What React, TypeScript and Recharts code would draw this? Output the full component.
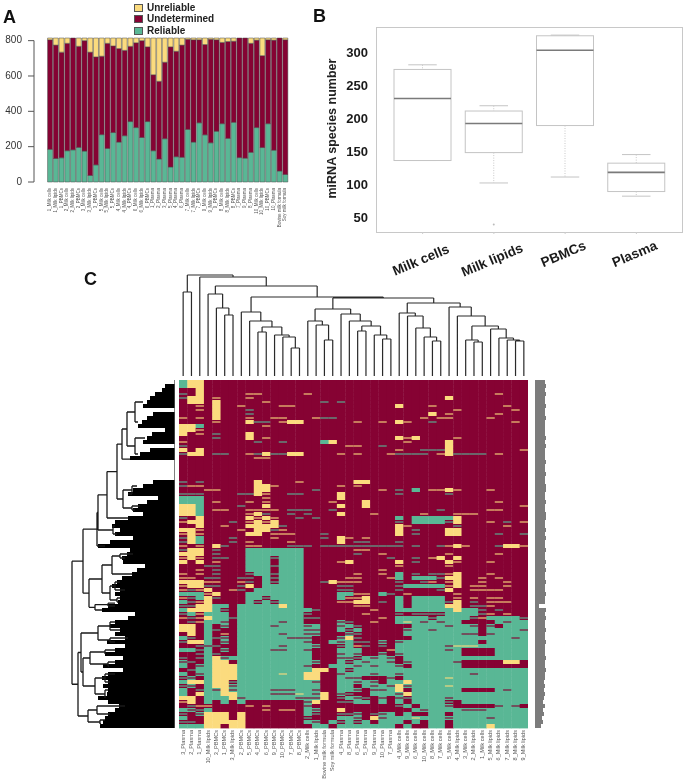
import React from 'react';
import { BarChart, Bar, XAxis, YAxis, Legend, LineChart, Line, ScatterChart, Scatter, ReferenceLine } from 'recharts';

const FONT = '"Liberation Sans", Arial, sans-serif';
const GREEN = '#59b795';
const BURGUNDY = '#860233';
const YELLOW = '#fbdb7e';

// panel A
const sampleLabels = [
  '1_Milk cells', '1_Milk lipids', '1_PBMCs', '2_Milk cells', '2_Milk lipids', '2_PBMCs', '3_Milk cells', '3_Milk lipids', '3_PBMCs',
  '5_Milk cells', '5_Milk lipids', '5_PBMCs', '4_Milk cells', '4_Milk lipids', '4_PBMCs', '6_Milk cells', '6_Milk lipids', '6_PBMCs',
  '1_Plasma', '2_Plasma', '3_Plasma', '5_Plasma', '4_Plasma', '6_Plasma', '7_Milk cells', '7_Milk lipids', '7_PBMCs',
  '9_Milk cells', '9_Milk lipids', '9_PBMCs', '8_Milk cells', '8_Milk lipids', '8_PBMCs', '7_Plasma', '9_Plasma', '8_Plasma',
  '10_Milk cells', '10_Milk lipids', '10_PBMCs', '10_Plasma', 'Bovine milk formula', 'Soy milk formula',
];
const reliable = [185, 133, 137, 177, 182, 196, 175, 37, 97, 268, 190, 280, 226, 262, 342, 308, 252, 342, 177, 130, 245, 85, 143, 140, 298, 226, 335, 267, 222, 287, 330, 247, 338, 138, 135, 168, 308, 195, 330, 180, 62, 43];
const undetermined = [620, 642, 598, 608, 633, 572, 625, 698, 611, 444, 595, 490, 529, 483, 426, 480, 548, 423, 430, 440, 433, 680, 597, 635, 510, 579, 470, 511, 586, 518, 460, 548, 459, 677, 680, 617, 495, 520, 475, 623, 753, 762];
const unreliable = [10, 40, 80, 30, 0, 47, 15, 80, 107, 103, 30, 45, 60, 70, 47, 27, 15, 50, 208, 245, 137, 50, 75, 40, 7, 10, 10, 37, 7, 10, 25, 20, 18, 0, 0, 30, 12, 100, 10, 12, 0, 10];
const countTicks = [0, 200, 400, 600, 800];
const stackTable = sampleLabels.map((name, i) => ({ name, reliable: reliable[i], undetermined: undetermined[i], unreliable: unreliable[i] }));
const legendItems = [['Unreliable', YELLOW], ['Undetermined', BURGUNDY], ['Reliable', GREEN]];

// panel B
const tissues = ['Milk cells', 'Milk lipids', 'PBMCs', 'Plasma'];
const q1 = [136, 148, 189, 89];
const medians = [230, 192, 303, 118];
const q3 = [274, 211, 325, 132];
const whiskerLow = [136, 102, 111, 82];
const whiskerHigh = [281, 219, 326, 145];
const outliers = [null, 39, null, null];
const speciesTicks = [50, 100, 150, 200, 250, 300];
const boxTable = tissues.map((name, i) => ({ name, q1: q1[i], median: medians[i], q3: q3[i], low: whiskerLow[i], high: whiskerHigh[i], outlier: outliers[i] }));

// panel C
const heatmapColumns = [
  '3_Plasma', '2_Plasma', '1_Plasma', '10_Milk lipids', '3_PBMCs', '1_PBMCs', '3_Milk lipids', '2_PBMCs', '5_PBMCs', '4_PBMCs', '6_PBMCs',
  '9_PBMCs', '10_PBMCs', '7_PBMCs', '8_PBMCs', '2_Milk cells', '1_Milk lipids', 'Bovine milk formula', 'Soy milk formula', '4_Plasma',
  '8_Plasma', '6_Plasma', '5_Plasma', '9_Plasma', '10_Plasma', '7_Plasma', '4_Milk cells', '9_Milk cells', '6_Milk cells', '10_Milk cells',
  '8_Milk cells', '7_Milk cells', '5_Milk cells', '4_Milk lipids', '3_Milk cells', '2_Milk lipids', '1_Milk cells', '5_Milk lipids',
  '6_Milk lipids', '7_Milk lipids', '8_Milk lipids', '9_Milk lipids',
];
// . undetermined, r reliable, y unreliable; o/g are thin stripes on burgundy, d/e thin stripes on green
const heatmapRows = [
  'ryy....... .......... .......... .......... ..',
  'ryy....... .......... .......... .......... ..',
  '..y....... .......... .......... .......... ..',
  'g.y.....oo .....o.... .......... ........o. ..',
  'gyy.o...o. .......... .......... ..y....... ..',
  '.yy.y..... o......g.g .......... .......... ..',
  '..o.y..o.. ..oo...... ......y... o........o ..',
  '..o.y...g. .......... .......... ...o...... o.',
  '....y...g. .......... .......... y.o.....o. ..',
  'o.o.y...o. .oo...ogg. .........o .oo....o.. ..',
  '....o...yg g.oyy..... .o..o.yo.. g......... o.',
  'yyr....... o......... .......... .......... ..',
  'yyo....... .......... .......... .......... ..',
  'y.o.g...y. .......... .......... .......... ..',
  '....g...y. o......... ......yoy. ...o...... ..',
  'o........g ..g....ry. .......o.. ..y....... ..',
  'g......... .......... oo..g..... ..y....... ..',
  'y.y....... .......... ......o..g ggy....... .o',
  'gyy.gg..og yggyy....o .o...ogggg .oygggg.o. ..',
  '.........o o......... .......... .......... ..',
  '.......... .......... .......... .......... ..',
  '.......... .......... .......... .......... ..',
  '.......... .......... .......... .......... ..',
  '.......... .......... .......... .......... ..',
  '.......... .......... .......... .......... ..',
  'g.g......y ....o..... .yy....... .......... ..',
  'goo......y yo.......o .o........ .......... ..',
  '...oo....y y.....g... ....o.g.r. ooyo...o.. ..',
  'ggg....ggy o..gg....y ......g... ..g....... ..',
  'rrr....... o........y .......... .......... ..',
  'rrr.o...o. o.......o. ..y....... ........o. ..',
  'yyr....g.. y........y ..y....... .......... .o',
  'yyr.oo..oo oo.ggg..g. .......... .g.....oo. ..',
  'yyr.....oy g..g.g...y ...o.....o ...ooo.... ..',
  'g.y.....yo yo..g.g... ......r.rr rrry...... ..',
  'oyy...g.oy oy........ ......g.rr rrgy...o.g .o',
  '..y..o..yy yyg....... ......yo.. ...g.....o ..',
  'yyo....o.y ygo....... ......y.g. ..yy...... ..',
  'oyo.....yy .ooo...g.. ......y.g. ..yy....g. .g',
  'gyr...g... .o.....g.y o.o....... .......... ..',
  'gyr...g.o. ...o.....y .gg...g... .......... ..',
  'o.o.yg..oo ...ggg.ggg ggggggg.g. .goyo...gy yo',
  'gyy.g...rr rrrrr..... .oo....... .......... ..',
  'yyy.g...rr rrrrr..... .g..o..... ..o.....o. ..',
  'oyo.gg..rr rgrrr..... .....g..g. oy.y...... ..',
  'y.y.o...rr r.rrr....o y.....y.g. ..yo...o.. ..',
  '...gg...rr rgrrr..... ......o... ..o....... ..',
  '..o.g...rr r.rrr..... ....o..... .......... ..',
  'o.o.g...gr rgrrr..... .o..o.r.g. ggoy...o.. ..',
  'oo.gg..gg. rgrrr..... oo...or.rr rgyy..o.o. ..',
  'yyyoo..og. rgrrr..gyo oo....g..g o.oy..o..o ..',
  'oyygg..gy. rrrrr....g g.....grrr rroy.oo..o ..',
  'ogoy..og.r rrrrr....g g.....g... .gy..oooo. ..',
  'rrroy...rr rrrrr....r roo.rg.o.. ...o...... ..',
  'ogryg...rr grrrr....r ooy...r.rr rr.o.o.oo. ..',
  'rgoy....rg rgrrr....o oyy.g.r.rr rrgy.g.ooo ..',
  'ggyyrr.rrr rryrr..... .oo...r.rr rryy.ggo.. ..',
  'ryyyrg.rrr rrrrrrg... ...o..rrrr rrryrrg.g. ..',
  'grorrr.rrr rrrrrg.... ..o...g.gg ggrrrrgo.o ..',
  'ogoyrrgrrr rrrrrgg... ....o.rrrr grrrrgorrr rg',
  '.gorrd.rrr rrdrr....d g..o..rerd rdrr....rd rr',
  'yy.r.d.rrr rdrrrdr..d rg......rr rrdrrd.d.r rr',
  'yy.rg..rrr rrrrrdd..r gr.....drr drrrrr.rrr rd',
  '.y.r.o.rrr rrdrrdd... dg.....rrr rrrrdd.drr rr',
  'rg.rgd.rrr rrrddd...d yg......rr rrrrrrrrrr dr',
  'gyyr.d.rrr rrrrrd..rd rgg.d.drrr rrrrrr.rrr rr',
  '..gdg..rrr rrdrrrd..g rog.g.rrrr rrdeeerrrr rr',
  'rrgr.d.rrr rddrrd...r rr...orrrr rrdr....rr rr',
  '..grg..rrr rrrrrr...d rd..d.drrr rrrr....rr rr',
  'g.grydrrrr rrrrrr...d dgrdrd.rrr rrrrrrrrrr rr',
  'dg.ryy.rrr rrrrrrd..r grdrrd.drr rrrd.....y y.',
  'r.dryyyrrr rrrrrd..rr rdrdrrd.rr rrrr...... ..',
  '.grryyyrrr rrrrrryy.r grrrrrrrrr rrrrrrrrrr rr',
  'r.dryyyrrr rrerryy..d rrrdrrdrrr rrrrrdrrrr rr',
  'gd.ryyyrrr rrrrryy..r dd...d.rrr rrerrrrrrr rr',
  'ryyryygrrr rrrrrrd..r rdrd.rryrr rrrrrrrrrr rr',
  'gd.ryydrrr rrrrrrr..r r.rdrdydrr rrerrrrrrr rr',
  'r.grdydrrr rdddrrd..r rd.ddry.rr rrrr....rd rr',
  'r.yrryyrrr rddderdy.d g..rrrdyrr rrrrrrrrrr rr',
  'yy.rrrydrr rrrrdddy.g rdg.d.dgrr rrdrrrrrrr rr',
  'oy.r.r.r.. .....dy..g grr.r.r.rr rrg.rrrrrr rr',
  '.goo....o. o....d.... ......gr.r rrd.....dr d.',
  'rdgr...... o.oo.rd..y ........rd rrrrdddrrr rr',
  'g.dyyy.y.. .....rg..g gd.gdr.r.. rr.rrrrrrr rr',
  'r..yyy.y.. .....g...r rd.ydrrrer rrdrrrrdrr rr',
  'gg.yyyyy.. .....rd.rg rgr.rrr.r. rr.rrrrrrr rr',
  'rrryy.yy.. ......rr.r rrrrrr.r.. rr.rrrryrr rr',
].map((row) => row.replace(/ /g, '').padEnd(42, '.'));
const rowLabelWidths = [10, 11, 10, 11, 10, 10, 11, 10, 10, 11, 10, 10, 10, 10, 11, 10, 11, 10, 10, 10, 11, 10, 10, 11, 10, 10, 11, 11, 10, 10, 11, 10, 10, 11, 11, 10, 10, 11, 10, 11, 10, 10, 11, 10, 10, 11, 10, 11, 10, 10, 11, 10, 10, 11, 10, 10, 4, 11, 10, 11, 10, 10, 11, 10, 10, 11, 10, 10, 10, 11, 10, 10, 11, 10, 10, 9, 10, 9, 10, 9, 8, 10, 8, 9, 7, 8, 6];
// how far the leaves of the row dendrogram reach, one value per heatmap row
const rowLeafDepth = [0, 10, 13, 20, 25, 28, 32, 0, 22, 28, 33, 37, 10, 23, 28, 32, 0, 25, 35, 45, 0, 0, 0, 0, 0, 22, 32, 42, 47, 17, 28, 37, 42, 32, 47, 60, 63, 55, 60, 42, 65, 77, 45, 48, 53, 52, 30, 38, 43, 53, 58, 63, 55, 60, 55, 57, 67, 73, 40, 47, 60, 65, 55, 60, 50, 68, 50, 60, 70, 52, 60, 72, 52, 67, 73, 67, 72, 67, 68, 77, 67, 56, 60, 67, 70, 72, 75];
const depthTable = rowLeafDepth.map((depth, i) => ({ row: i, depth, label: rowLabelWidths[i] }));

// [height, child, child]; a number is a column leaf, a pair is [height, row position]
type TreeNode = number | [number, number] | [number, TreeNode, TreeNode];
const columnTree: TreeNode = [101, [84, 0, 1], [99, 2, [90,
  [82, 3, [68, 4, [61, 5, 6]]],
  [79,
    [64, 7, [55, 8, [49, [44, 9, 10], [41, 11, [39, 12, [28, 13, 14]]]]]],
    [78,
      [67, [55, 15, [51, 16, [36, 17, 18]]], [62, 19, [55, 20, [50, [45, 21, 22], [41, 23, [37, 24, 25]]]]]],
      [73, [63, 26, [60, 27, [48, 28, [39, 29, [35, 30, 31]]]]], [69, 32, [60, 33, [50, [36, 34, [34, 35, 36]], [47, 37, [38, 38, [36, 39, [35, 40, 41]]]]]]]],
    ],
  ],
]]];
const rowTree: TreeNode = [103,
  [92,
    [78,
      [77,
        [68,
          [58,
            [53,
              [48, [40, [32, 5.5], [37, 10.5]], [40, [30, 14.5], [37, 18.5]]],
              [45, 19.8],
            ],
            [52, [43, [38, 26.5], [47, 28.5]], [43, [35, 31.5], [40, 32.5]]],
          ],
          [47, 34.5],
        ],
        [62, [60, 36.5], [58, 38.5]],
      ],
      [70, 41.5],
    ],
    [86,
      [73,
        [63, [55, [42, 43.5], [50, 44.5]], [43, 48.5]],
        [65, [60, [55, 50.5], [50, 52.5]], [58, [55, 54.5], [57, 55.5]]],
      ],
      [80, [67, [60, 55.8], [60, 56.5]], [73, 57.5]],
    ],
  ],
  [97,
    [94,
      [77, [65, [60, 60.5], [55, 62.5]], [65, [47, 64.5], [60, 65.5]]],
      [92,
        [85, [70, [60, 67.5], [70, 68.5]], [67, [60, 70.5], [66, 71.5]]],
        [80, [70, [60, 73.5], [65, 75.5]], [70, [67, 77.5], [70, 79.5]]],
      ],
    ],
    [87, [78, [50, 81.5], [65, 83.5]], [75, [70, 85], [74, 86]]],
  ],
];

const treeSegments = (tree: TreeNode, horizontalLeaves: boolean) => {
  const out: { x: number; y: number | null }[] = [];
  const put = (h: number, pos: number) => out.push(horizontalLeaves ? { x: h, y: pos } : { x: pos, y: h });
  const cut = () => out.push({ x: out[out.length - 1].x, y: null });
  const walk = (node: TreeNode): { h: number; pos: number } => {
    if (typeof node === 'number') return { h: 0, pos: node + 0.5 };
    if (node.length === 2) return { h: node[0], pos: node[1] };
    const a = walk(node[1]);
    const b = walk(node[2]);
    const pos = (a.pos + b.pos) / 2;
    put(node[0], a.pos); put(node[0], b.pos); cut();
    put(node[0], a.pos); put(a.h, a.pos); cut();
    put(node[0], b.pos); put(b.h, b.pos); cut();
    return { h: node[0], pos };
  };
  walk(tree);
  return out;
};
const columnSegments = treeSegments(columnTree, false);
const rowSegments = treeSegments(rowTree, true);

const cells = heatmapRows.flatMap((row, r) => row.split('').map((state, c) => ({ col: c + 0.5, row: r + 0.5, state })));
const columnTicks = heatmapColumns.map((_, i) => i + 0.5);

const CELL_W = 349 / 42;
const CELL_H = 4;
const HeatCell = ({ cx, cy, payload }: any) => {
  const s = payload.state;
  const base = s === 'r' || s === 'd' || s === 'e' ? GREEN : s === 'y' ? YELLOW : BURGUNDY;
  const stripe = s === 'o' || s === 'e' ? YELLOW : s === 'g' ? GREEN : s === 'd' ? BURGUNDY : null;
  const x = cx - CELL_W / 2;
  const y = cy - CELL_H / 2;
  return (
    <g>
      <rect x={x} y={y} width={CELL_W + 0.4} height={CELL_H + 0.4} fill={base} />
      {stripe && <rect x={x} y={y + 1.2} width={CELL_W + 0.4} height={1.6} fill={stripe} opacity={0.7} />}
    </g>
  );
};

const SampleTick = ({ x, y, payload }: any) => (
  <text x={x} y={y - 2} transform={`rotate(-90 ${x} ${y - 2})`} textAnchor="end" dominantBaseline="middle" fontSize={4.5} fill="#555" fontFamily={FONT}>
    {payload.value}
  </text>
);

const CountTick = ({ x, y, payload }: any) => {
  const axisX = x + 8;
  return (
    <g>
      <text x={axisX - 12} y={y} textAnchor="end" dominantBaseline="middle" fontSize={10} fill="#333" fontFamily={FONT}>{payload.value}</text>
      <line x1={axisX - 6} x2={axisX} y1={y} y2={y} stroke="#555" />
      {payload.value < 800 && <line x1={axisX} x2={axisX} y1={y} y2={y - 35.4} stroke="#555" />}
    </g>
  );
};

const ColumnTick = ({ x, y, index }: any) => (
  <text x={x} y={y - 6} transform={`rotate(-90 ${x} ${y - 6})`} textAnchor="end" dominantBaseline="middle" fontSize={5.6} fill="#555" fontFamily={FONT}>
    {heatmapColumns[index]}
  </text>
);

const TissueTick = ({ x, y, payload }: any) => {
  const baseline = y + (payload.value.length > 6 ? 28 : 22);
  return (
    <text x={x} y={baseline} transform={`rotate(-23 ${x} ${baseline})`} textAnchor="middle" fontSize={13.5} fontWeight="bold" fill="#1a1a1a" fontFamily={FONT}>
      {payload.value}
    </text>
  );
};

const BoxMark = ({ x, y, width, height, payload }: any) => {
  const perUnit = height / (payload.q3 - payload.q1);
  const at = (v: number) => y + (payload.q3 - v) * perUnit;
  const mid = x + width / 2;
  const cap = width / 4;
  return (
    <g>
      <line x1={mid} x2={mid} y1={at(payload.high)} y2={at(payload.q3)} stroke="#c8c8c8" strokeDasharray="1 1.5" />
      <line x1={mid} x2={mid} y1={at(payload.q1)} y2={at(payload.low)} stroke="#c8c8c8" strokeDasharray="1 1.5" />
      <line x1={mid - cap} x2={mid + cap} y1={at(payload.high)} y2={at(payload.high)} stroke="#c4c4c4" />
      <line x1={mid - cap} x2={mid + cap} y1={at(payload.low)} y2={at(payload.low)} stroke="#c4c4c4" />
      <rect x={x} y={y} width={width} height={height} fill="#fff" stroke="#c4c4c4" />
      <line x1={x} x2={x + width} y1={at(payload.median)} y2={at(payload.median)} stroke="#7a7a7a" strokeWidth={1.6} />
      {payload.outlier != null && <circle cx={mid} cy={at(payload.outlier)} r={1} fill="#bbb" />}
    </g>
  );
};

const StackLegend = () => (
  <div style={{ fontFamily: FONT, fontSize: 10, fontWeight: 'bold', color: '#222', lineHeight: '11.4px' }}>
    {legendItems.map(([name, color]) => (
      <div key={name} style={{ display: 'flex', alignItems: 'center' }}>
        <span style={{ width: 7, height: 6, background: color, border: '0.5px solid #555', marginRight: 4 }} />
        {name}
      </div>
    ))}
  </div>
);

const Letter = ({ x, y, children }: any) => (
  <div style={{ position: 'absolute', left: x, top: y, fontFamily: FONT, fontWeight: 'bold', fontSize: 18, lineHeight: '18px', color: '#111' }}>{children}</div>
);

const place = (left: number, top: number): React.CSSProperties => ({ position: 'absolute', left, top });

export default function App() {
  return (
    <div style={{ position: 'absolute', left: 0, top: 0, width: 685, height: 781, background: '#fff', overflow: 'hidden', filter: 'blur(0.35px)' }}>
      <Letter x={3} y={8}>A</Letter>
      <Letter x={313} y={7}>B</Letter>
      <Letter x={84} y={270}>C</Letter>

      <div style={place(0, 0)}>
        <BarChart width={290} height={232} data={stackTable} margin={{ top: 38, right: 2, bottom: 0, left: 0 }} barCategoryGap="10%">
          <XAxis dataKey="name" interval={0} axisLine={false} tickLine={false} height={50} tick={SampleTick} padding={{ left: 13, right: 0 }} />
          <YAxis width={34} domain={[0, 815]} ticks={countTicks} axisLine={false} tickLine={false} tick={CountTick} />
          <Legend layout="vertical" align="center" verticalAlign="middle" content={StackLegend} wrapperStyle={{ left: 134, top: 2, width: 90, bottom: 'auto' }} />
          <Bar dataKey="reliable" stackId="a" fill={GREEN} stroke="#4a4a4a" strokeWidth={0.5} isAnimationActive={false} />
          <Bar dataKey="undetermined" stackId="a" fill={BURGUNDY} stroke="#4a4a4a" strokeWidth={0.5} isAnimationActive={false} />
          <Bar dataKey="unreliable" stackId="a" fill={YELLOW} stroke="#4a4a4a" strokeWidth={0.5} isAnimationActive={false} />
        </BarChart>
      </div>

      <div style={{ ...place(376, 27), width: 305, height: 204, border: '1px solid #c8c8c8' }} />
      <div style={{ ...place(320, 27) }}>
        <BarChart width={362} height={255} data={boxTable} margin={{ top: 0, right: 0, bottom: 0, left: 0 }}>
          <XAxis dataKey="name" interval={0} axisLine={false} tickLine={{ stroke: '#ccc' }} tickSize={2} height={50} tick={TissueTick} padding={{ left: 11, right: 10 }} />
          <YAxis
            width={56}
            domain={[27.7, 338.3]}
            ticks={speciesTicks}
            axisLine={false}
            tickLine={false}
            tick={{ fontSize: 13, fontWeight: 'bold', fill: '#1a1a1a', fontFamily: FONT }}
            label={{ value: 'miRNA species number', angle: -90, position: 'insideLeft', offset: 12, dy: 69, style: { fontSize: 12.5, fontWeight: 'bold', fill: '#222', fontFamily: FONT, textAnchor: 'start' } }}
          />
          <Bar dataKey={(d: any) => [d.q1, d.q3]} barSize={57} shape={BoxMark} isAnimationActive={false} />
        </BarChart>
      </div>

      <div style={place(179, 273)}>
        <LineChart width={349} height={104} data={columnSegments} margin={{ top: 2, right: 0, bottom: 1, left: 0 }}>
          <XAxis dataKey="x" type="number" domain={[0, 42]} hide />
          <YAxis type="number" domain={[0, 101]} hide />
          <Line dataKey="y" stroke="#2a2a2a" strokeWidth={1.2} dot={false} isAnimationActive={false} connectNulls={false} />
        </LineChart>
      </div>

      <div style={place(70, 380)}>
        <BarChart width={105} height={348} layout="vertical" data={depthTable} margin={{ top: 0, right: 0, bottom: 0, left: 0 }} barCategoryGap={0}>
          <XAxis type="number" domain={[0, 105]} reversed hide />
          <YAxis type="category" dataKey="row" hide />
          <Bar dataKey="depth" fill="#000" isAnimationActive={false} />
        </BarChart>
      </div>
      <div style={place(70, 380)}>
        <LineChart width={105} height={348} data={rowSegments} margin={{ top: 0, right: 0, bottom: 0, left: 0 }}>
          <XAxis dataKey="x" type="number" domain={[0, 105]} reversed hide />
          <YAxis type="number" domain={[0, 87]} reversed hide />
          <ReferenceLine x={0} stroke="#555" strokeWidth={1.5} />
          <Line dataKey="y" stroke="#1a1a1a" strokeWidth={1.3} dot={false} isAnimationActive={false} connectNulls={false} />
        </LineChart>
      </div>

      <div style={place(179, 380)}>
        <ScatterChart width={349} height={400} margin={{ top: 0, right: 0, bottom: 0, left: 0 }}>
          <XAxis dataKey="col" type="number" domain={[0, 42]} ticks={columnTicks} interval={0} height={52} axisLine={false} tickLine={false} tick={ColumnTick} />
          <YAxis dataKey="row" type="number" domain={[0, 87]} reversed hide />
          <Scatter data={cells} shape={HeatCell} isAnimationActive={false} />
        </ScatterChart>
      </div>

      <div style={place(535, 380)}>
        <BarChart width={13} height={348} layout="vertical" data={depthTable} margin={{ top: 0, right: 0, bottom: 0, left: 0 }} barCategoryGap={0}>
          <XAxis type="number" domain={[0, 13]} hide />
          <YAxis type="category" dataKey="row" hide />
          <Bar dataKey="label" fill="#7c7c7c" isAnimationActive={false} />
        </BarChart>
      </div>
    </div>
  );
}
